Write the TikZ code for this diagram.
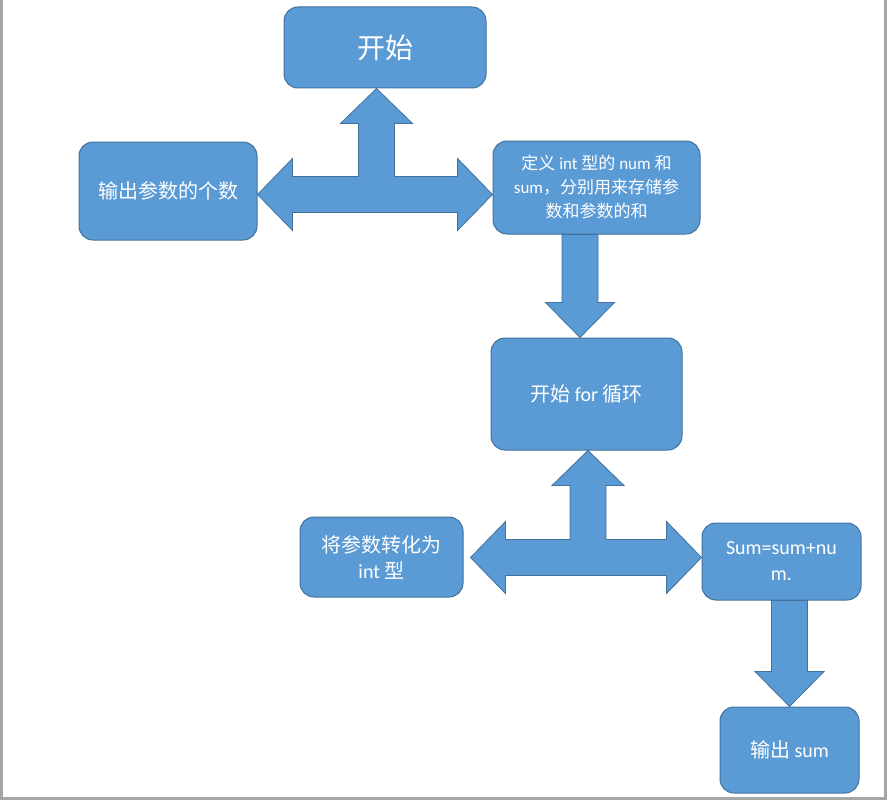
\documentclass[tikz,border=0pt]{standalone}
\usepackage{fontspec}
\setmainfont{Carlito}
\newfontfamily\cjk{Noto Sans CJK SC}
\usetikzlibrary{calc}
\definecolor{boxfill}{HTML}{5B9BD5}
\definecolor{boxline}{HTML}{41719C}
\definecolor{pageedge}{HTML}{A6A6A6}
\newcommand{\zh}[1]{{\cjk #1}}
\tikzset{
  box/.style={draw=boxline, fill=boxfill, line width=1pt, rounded corners=14pt,
    text=white, align=center, inner sep=0pt, font=\fontsize{20}{26}\selectfont},
  blockarrow/.style={draw=boxline, fill=boxfill, line width=0.8pt, line join=miter},
}
% down block arrow: #1 gives the top, #2 the tip
\newcommand{\downblock}[2]{
  \path[blockarrow] let \p1=(#1), \p2=(#2) in
    (\x2-18pt,\y1) -- (\x2+18pt,\y1) -- (\x2+18pt,\y2+35pt) -- (\x2+34.5pt,\y2+35pt)
    -- (\x2,\y2) -- (\x2-34.5pt,\y2+35pt) -- (\x2-18pt,\y2+35pt) -- cycle;
}
% three-way block arrow: #1 hub, #2 left tip, #3 right tip, #4 top tip
\newcommand{\tblock}[4]{
  \path[blockarrow] let \p0=(#1), \p1=(#2), \p2=(#3), \p3=(#4) in
    (\x1,\y0) -- (\x1+35pt,\y0+36pt) -- (\x1+35pt,\y0+18pt) -- (\x0-18pt,\y0+18pt)
    -- (\x0-18pt,\y3-35pt) -- (\x0-36pt,\y3-35pt) -- (\x0,\y3) -- (\x0+36pt,\y3-35pt)
    -- (\x0+18pt,\y3-35pt) -- (\x0+18pt,\y0+18pt) -- (\x2-35pt,\y0+18pt)
    -- (\x2-35pt,\y0+36pt) -- (\x2,\y0) -- (\x2-35pt,\y0-36pt) -- (\x2-35pt,\y0-18pt)
    -- (\x1+35pt,\y0-18pt) -- (\x1+35pt,\y0-36pt) -- cycle;
}

\begin{document}
\begin{tikzpicture}[x=1pt,y=-1pt]
\useasboundingbox (0,0) rectangle (887,800);
%\draw [help lines, step=50] (0,0) grid (887,800);
\node[box, minimum width=202pt, minimum height=81pt, font=\fontsize{28}{32}\selectfont] (start) at (385,47.5) {\zh{开始}};
\node[box, minimum width=178pt, minimum height=98pt] (count) at (168,191) {\zh{输出参数的个数}};
\node[box, minimum width=207pt, minimum height=93pt, font=\fontsize{17}{24}\selectfont] (define) at (596.5,187.5)
  {\zh{定义} int \zh{型的} num \zh{和}\\sum\zh{，分别用来存储参}\\\zh{数和参数的和}};
\node[box, minimum width=191pt, minimum height=112pt] (loop) at (586.5,394) {\zh{开始} for \zh{循环}};
\node[box, minimum width=163pt, minimum height=80pt] (convert) at (381.5,557) {\zh{将参数转化为}\\int \zh{型}};
\node[box, minimum width=159pt, minimum height=77pt] (add) at (781.5,561.5) {Sum=sum+nu\\m.};
\node[box, minimum width=139pt, minimum height=86pt] (result) at (789.5,750) {\zh{输出} sum};

\coordinate (hubA) at (376.5,194.5);
\coordinate (hubB) at (588,557.5);

\tblock{hubA}{count.east}{define.west}{start.south}
\downblock{define.south}{[xshift=-6.5pt]loop.north}
\tblock{hubB}{[xshift=7pt]convert.east}{add.west}{loop.south}
\downblock{add.south}{result.north}

% page edges
\draw[pageedge, line width=3pt] (1.5,0) -- (1.5,798.5) -- (885.5,798.5) -- (885.5,0);
\end{tikzpicture}
\end{document}
